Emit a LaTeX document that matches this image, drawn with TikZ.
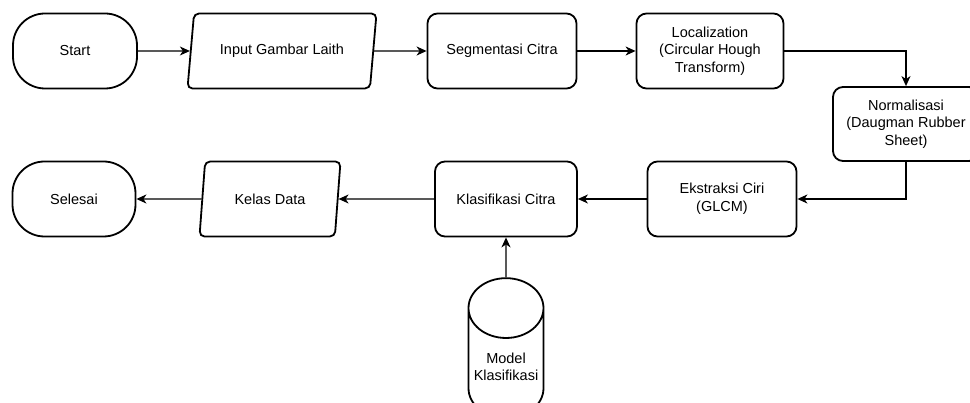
\documentclass[tikz,border=0pt]{standalone}
\usepackage{fontspec}
\setmainfont{Liberation Sans}
\usetikzlibrary{shapes.geometric,arrows.meta}

\begin{document}
\begin{tikzpicture}[x=1pt, y=-1pt, >={Stealth[length=10pt,width=9pt,inset=3pt]},
  font=\fontsize{14.5}{17.5}\selectfont,
  box/.style = {draw, line width=1.8pt, rounded corners=10pt, align=center, minimum height=75pt, inner sep=2pt},
  term/.style = {draw, line width=1.8pt, rounded corners=32pt, minimum height=75pt},
  io/.style = {draw, line width=1.8pt, trapezium, trapezium left angle=72, trapezium right angle=108, trapezium stretches body, rounded corners=5pt, minimum height=75pt},
  db/.style = {draw, line width=1.8pt, cylinder, shape border rotate=90, aspect=0.9, align=center, inner sep=1pt},
  line/.style = {->, line width=1.3pt}]
\useasboundingbox (0,0) rectangle (970,403);
\clip (0,0) rectangle (970,403);
\fill[white] (0,0) rectangle (970,403);

% baris atas
\node[term, minimum width=124pt] (start) at (75,51) {Start};
\node[io, minimum width=189pt] (input) at (282,51) {Input Gambar Laith};
\node[box, minimum width=149pt] (segmen) at (502,51) {Segmentasi Citra};
\node[box, minimum width=147pt] (lokal) at (710,51) {Localization\\(Circular Hough\\Transform)};
\node[box, minimum width=146pt, minimum height=74pt] (normal) at (906,124) {Normalisasi\\(Daugman Rubber\\Sheet)};

% baris bawah
\node[box, minimum width=149pt] (ekstrak) at (722,199) {Ekstraksi Ciri\\(GLCM)};
\node[box, minimum width=142pt] (klasif) at (506,199) {Klasifikasi Citra};
\node[io, minimum width=141pt] (kelas) at (270,199) {Kelas Data};
\node[term, minimum width=123pt] (selesai) at (74,199) {Selesai};
\node[db, minimum width=75pt, minimum height=140pt] (model) at (506,367) {Model\\Klasifikasi};

\draw[line] (start) -- (input);
\draw[line] (input) -- (segmen);
\draw[line] (segmen) -- (lokal);
\draw[line] (lokal) -| (normal);
\draw[line] (normal) |- (ekstrak);
\draw[line] (ekstrak) -- (klasif);
\draw[line] (klasif) -- (kelas);
\draw[line] (kelas) -- (selesai);
\draw[line] (model) -- (klasif);
\end{tikzpicture}
\end{document}
